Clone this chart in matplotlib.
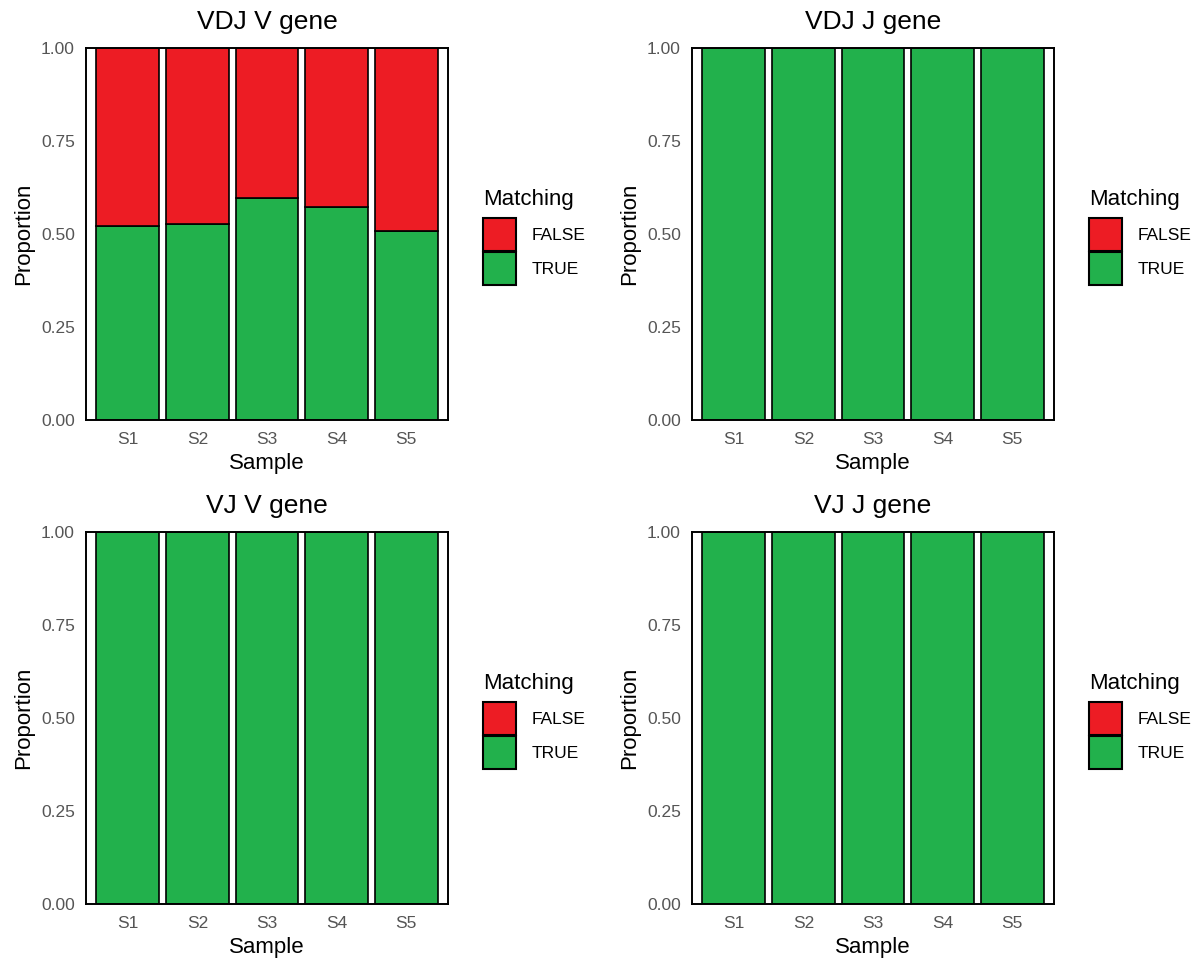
import matplotlib
matplotlib.use("Agg")
import matplotlib.pyplot as plt
from matplotlib.patches import Patch

plt.rcParams['font.family'] = ['Liberation Sans', 'DejaVu Sans']

samples = ['S1', 'S2', 'S3', 'S4', 'S5']
titles = ['VDJ V gene', 'VDJ J gene', 'VJ V gene', 'VJ J gene']
true_vdj_v = [0.522, 0.527, 0.598, 0.573, 0.508]
true_vdj_j = [1.0, 1.0, 1.0, 1.0, 1.0]
true_vj_v = [1.0, 1.0, 1.0, 1.0, 1.0]
true_vj_j = [1.0, 1.0, 1.0, 1.0, 1.0]
yticks = [0.0, 0.25, 0.5, 0.75, 1.0]
ytick_labels = ['0.00', '0.25', '0.50', '0.75', '1.00']

red = '#ED1C24'
green = '#22B14C'

W, H = 1195, 958
fig = plt.figure(figsize=(W / 100, H / 100), dpi=100)

# panel boxes in pixels: left, top
boxes = [(86, 48), (692, 48), (86, 532), (692, 532)]
pw, ph = 362, 372

for (left, top), title, tv in zip(boxes, titles, [true_vdj_v, true_vdj_j, true_vj_v, true_vj_j]):
    ax = fig.add_axes([left / W, (H - top - ph) / H, pw / W, ph / H])
    x = list(range(1, len(samples) + 1))
    fv = [1 - v for v in tv]
    ax.bar(x, tv, width=0.9, color=green, edgecolor='black', linewidth=1.2)
    ax.bar(x, fv, bottom=tv, width=0.9, color=red, edgecolor='black', linewidth=1.2)
    ax.set_xlim(0.4, 5.6)
    ax.set_ylim(0, 1)
    ax.set_xticks(x)
    ax.set_xticklabels(samples)
    ax.set_yticks(yticks)
    ax.set_yticklabels(ytick_labels)
    ax.tick_params(length=0, labelsize=12.5, labelcolor='#555555')
    ax.tick_params(axis='x', pad=9)
    ax.tick_params(axis='y', pad=8)
    for s in ax.spines.values():
        s.set_linewidth(1.4)
        s.set_color('black')
    ax.set_xlabel('Sample', fontsize=16, labelpad=4)
    ax.set_ylabel('Proportion', fontsize=16, labelpad=5)
    ax.set_title(title, fontsize=19, pad=14)
    handles = [Patch(facecolor=red, edgecolor='black', linewidth=1.5, label='FALSE'),
               Patch(facecolor=green, edgecolor='black', linewidth=1.5, label='TRUE')]
    leg = ax.legend(handles=handles, title='Matching', loc='center left',
                    bbox_to_anchor=(1 + 35 / pw, 0.5 - 3 / ph), frameon=False,
                    fontsize=12.5, title_fontsize=16, handlelength=1.9,
                    handleheight=2.55, labelspacing=0.05, handletextpad=0.9,
                    borderpad=0, borderaxespad=0, alignment='left')
    leg._legend_box.sep = 6  # more room under the legend title

fig.savefig('out.png', dpi=100)
